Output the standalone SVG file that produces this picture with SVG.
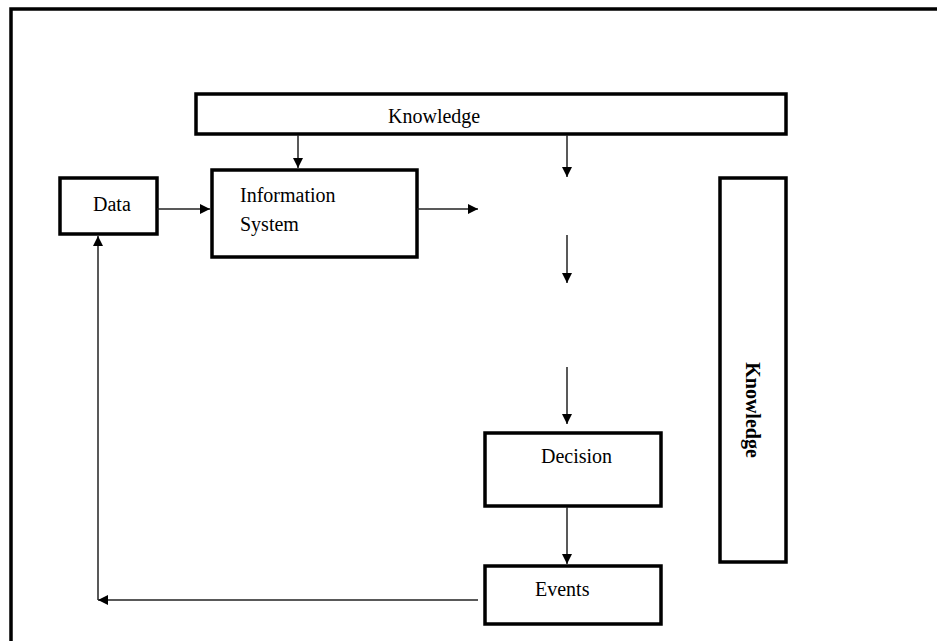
<svg xmlns="http://www.w3.org/2000/svg" width="937" height="641" viewBox="0 0 937 641">
<style>
.box{fill:#fff;stroke:#000;stroke-width:3.5}
.lbl{font-family:"Liberation Serif","Times New Roman",serif;font-size:20px;fill:#000}
.con{stroke:#222;stroke-width:1.5;fill:none}
</style>
<defs>
<marker id="ah" markerWidth="10" markerHeight="10" refX="10" refY="5" orient="auto" markerUnits="userSpaceOnUse">
<path d="M0,0 L10,5 L0,10 Z" fill="#000"/>
</marker>
</defs>
<rect width="937" height="641" fill="#fff"/>
<rect x="11" y="9" width="940" height="650" fill="none" stroke="#000" stroke-width="3.5"/>
<g id="knowledge-top"><rect class="box" x="196" y="94" width="590" height="40"/><text class="lbl" x="388" y="123">Knowledge</text></g>
<g id="data"><rect class="box" x="60" y="178" width="97" height="56"/><text class="lbl" x="93" y="211">Data</text></g>
<g id="info-system"><rect class="box" x="212" y="170" width="205" height="87"/><text class="lbl" x="240" y="202">Information</text><text class="lbl" x="240" y="231">System</text></g>
<g id="knowledge-side"><rect class="box" x="720" y="178" width="66" height="384"/><text class="lbl" x="752" y="410" text-anchor="middle" font-weight="bold" font-size="18" transform="rotate(90 752 410)" dy="6">Knowledge</text></g>
<g id="decision"><rect class="box" x="485" y="433" width="176" height="73"/><text class="lbl" x="541" y="463">Decision</text></g>
<g id="events"><rect class="box" x="485" y="566" width="176" height="58"/><text class="lbl" x="535" y="596">Events</text></g>
<g id="connectors">
<line class="con" x1="298" y1="135" x2="298" y2="168" marker-end="url(#ah)"/>
<line class="con" x1="567" y1="135" x2="567" y2="177" marker-end="url(#ah)"/>
<line class="con" x1="157" y1="209" x2="210" y2="209" marker-end="url(#ah)"/>
<line class="con" x1="417" y1="209" x2="478" y2="209" marker-end="url(#ah)"/>
<line class="con" x1="567" y1="235" x2="567" y2="283" marker-end="url(#ah)"/>
<line class="con" x1="567" y1="367" x2="567" y2="424" marker-end="url(#ah)"/>
<line class="con" x1="567" y1="507" x2="567" y2="564" marker-end="url(#ah)"/>
<line class="con" x1="478" y1="600" x2="98" y2="600" marker-end="url(#ah)"/>
<line class="con" x1="98" y1="600" x2="98" y2="236" marker-end="url(#ah)"/>
</g>
</svg>
